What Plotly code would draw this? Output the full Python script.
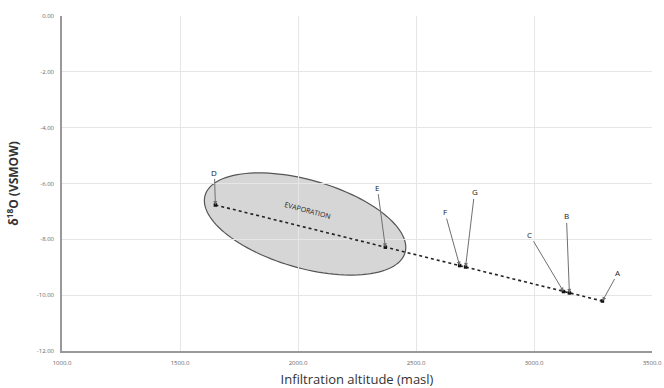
import numpy as np
import plotly.graph_objects as go

# Sample sites: recharge altitude (masl) and delta-18O (permil VSMOW)
sites = ["D", "E", "F", "G", "C", "B", "A"]
altitude = [1650, 2370, 2685, 2710, 3125, 3150, 3290]
d18o = [-6.77, -8.28, -8.94, -8.99, -9.87, -9.92, -10.21]

# Label offsets (pixels) from each point to its letter
label_dx = [-1, -8, -15, 9, -34, -3, 16]
label_dy = [-33, -60, -54, -75, -57, -77, -29]

x_ticks = [1000, 1500, 2000, 2500, 3000, 3500]
x_tick_text = ["1000.0", "1500.0", "2000.0", "2500.0", "3000.0", "3500.0"]
y_ticks = [0, -2, -4, -6, -8, -10, -12]
y_tick_text = ["0.00", "-2.00", "-4.00", "-6.00", "-8.00", "-10.00", "-12.00"]

W, H = 664, 388
ML, MR, MT, MB = 62, 12, 16, 37
XR = [1000, 3500]
YR = [-12, 0]
px_per_x = (W - ML - MR) / (XR[1] - XR[0])
px_per_y = (H - MT - MB) / (YR[1] - YR[0])

fig = go.Figure()

# Evaporation envelope: ellipse specified in screen units, converted to data units
ecx, ecy = 2030, -7.45
a_px, b_px, theta = 104, 44, np.deg2rad(16)
t = np.linspace(0, 2 * np.pi, 120)
dx = a_px * np.cos(theta) * np.cos(t) - b_px * np.sin(theta) * np.sin(t)
dy = a_px * np.sin(theta) * np.cos(t) + b_px * np.cos(theta) * np.sin(t)
ex = ecx + dx / px_per_x
ey = ecy - dy / px_per_y
path = "M " + " L ".join(f"{x:.2f},{y:.4f}" for x, y in zip(ex, ey)) + " Z"
fig.add_shape(type="path", path=path, xref="x", yref="y", layer="below",
              fillcolor="#d6d6d6", line=dict(color="#555555", width=1.2))

order = np.argsort(altitude)
fig.add_trace(go.Scatter(
    x=[altitude[i] for i in order], y=[d18o[i] for i in order],
    mode="lines+markers",
    line=dict(color="#222222", width=1.6, dash="dot"),
    marker=dict(symbol="square", size=3.5, color="#111111"),
    hoverinfo="skip", showlegend=False,
))

for s, xv, yv, ax, ay in zip(sites, altitude, d18o, label_dx, label_dy):
    fig.add_annotation(x=xv, y=yv, text=s, ax=ax, ay=ay,
                       showarrow=True, arrowhead=2, arrowsize=0.8,
                       arrowwidth=1, arrowcolor="#6f6f6f",
                       font=dict(family="Open Sans", size=8, color="#222222"))

fig.add_annotation(x=2040, y=-6.95, xref="x", yref="y", text="EVAPORATION",
                   showarrow=False, textangle=15,
                   font=dict(family="Open Sans", size=7, color="#222222"))

fig.update_layout(
    width=W, height=H,
    margin=dict(l=ML, r=MR, t=MT, b=MB),
    paper_bgcolor="white", plot_bgcolor="white",
    xaxis=dict(range=XR, tickvals=x_ticks, ticktext=x_tick_text,
               showgrid=True, gridcolor="#e6e6e6", gridwidth=1,
               showline=True, linecolor="#999999", linewidth=1.5,
               ticks="", zeroline=False, ticklabelstandoff=5, automargin=False,
               tickfont=dict(family="Open Sans", size=6, color="#666666"),
               title=dict(text="Infiltration altitude (masl)", standoff=12,
                          font=dict(family="Open Sans", size=13, color="#333333"))),
    yaxis=dict(range=YR, tickvals=y_ticks, ticktext=y_tick_text,
               showgrid=True, gridcolor="#e6e6e6", gridwidth=1,
               showline=True, linecolor="#999999", linewidth=1.5,
               ticks="", zeroline=False, ticklabelstandoff=5, automargin=False,
               tickfont=dict(family="Open Sans", size=6, color="#666666"),
               title=dict(text="<b>δ<sup>18</sup>O (VSMOW)</b>", standoff=16,
                          font=dict(family="Open Sans", size=12, color="#333333"))),
)

fig.write_html("out.html")
